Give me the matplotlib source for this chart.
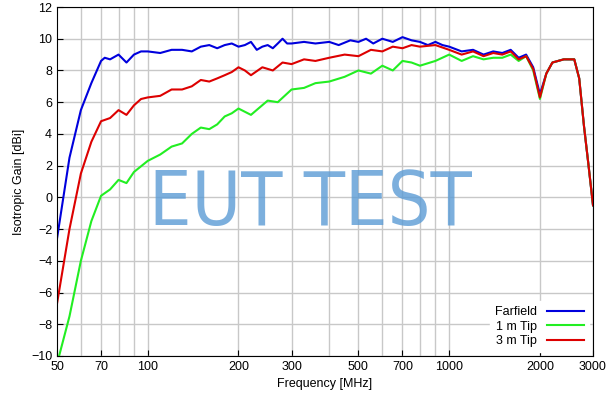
import matplotlib
matplotlib.use('Agg')
import matplotlib.pyplot as plt
from matplotlib.ticker import FixedLocator, NullLocator

plt.rcParams['font.family'] = ['Liberation Sans', 'DejaVu Sans']

# ---- data ----
freq_far = [50, 52, 55, 60, 65, 70, 72, 75, 80, 85, 90, 95, 100, 110, 120, 130, 140, 150, 160, 170,
            180, 190, 200, 210, 220, 230, 240, 250, 260, 270, 280, 290, 300, 330, 360, 400, 430, 470,
            500, 530, 560, 600, 650, 700, 750, 800, 850, 900, 950, 1000, 1100, 1200, 1300, 1400, 1500,
            1600, 1700, 1800, 1900, 2000, 2100, 2200, 2400, 2600, 2700, 2800, 2900, 3000]
gain_far = [-2.6, -0.5, 2.5, 5.5, 7.2, 8.6, 8.8, 8.7, 9.0, 8.5, 9.0, 9.2, 9.2, 9.1, 9.3, 9.3, 9.2, 9.5,
            9.6, 9.4, 9.6, 9.7, 9.5, 9.6, 9.8, 9.3, 9.5, 9.6, 9.4, 9.7, 10.0, 9.7, 9.7, 9.8, 9.7, 9.8,
            9.6, 9.9, 9.8, 10.0, 9.7, 10.0, 9.8, 10.1, 9.9, 9.8, 9.6, 9.8, 9.6, 9.5, 9.2, 9.3, 9.0,
            9.2, 9.1, 9.3, 8.8, 9.0, 8.2, 6.5, 7.8, 8.5, 8.7, 8.7, 7.5, 4.5, 2.0, -0.5]

freq_3m = [50, 55, 60, 65, 70, 75, 80, 85, 90, 95, 100, 110, 120, 130, 140, 150, 160, 170, 180, 190,
           200, 210, 220, 240, 260, 280, 300, 330, 360, 400, 450, 500, 550, 600, 650, 700, 750, 800,
           900, 1000, 1100, 1200, 1300, 1400, 1500, 1600, 1700, 1800, 1900, 2000, 2100, 2200, 2400,
           2600, 2700, 2800, 2900, 3000]
gain_3m = [-6.7, -2.0, 1.5, 3.5, 4.8, 5.0, 5.5, 5.2, 5.8, 6.2, 6.3, 6.4, 6.8, 6.8, 7.0, 7.4, 7.3, 7.5,
           7.7, 7.9, 8.2, 8.0, 7.7, 8.2, 8.0, 8.5, 8.4, 8.7, 8.6, 8.8, 9.0, 8.9, 9.3, 9.2, 9.5, 9.4,
           9.6, 9.5, 9.6, 9.3, 9.0, 9.2, 8.9, 9.1, 9.0, 9.2, 8.7, 8.9, 8.1, 6.3, 7.8, 8.5, 8.7, 8.7,
           7.5, 4.5, 2.0, -0.5]

freq_1m = [50, 55, 60, 65, 70, 75, 80, 85, 90, 100, 110, 120, 130, 140, 150, 160, 170, 180, 190, 200,
           220, 250, 270, 300, 330, 360, 400, 450, 500, 550, 600, 650, 700, 750, 800, 900, 1000, 1100,
           1200, 1300, 1400, 1500, 1600, 1700, 1800, 1900, 2000, 2100, 2200, 2400, 2600, 2700, 2800,
           2900, 3000]
gain_1m = [-10.5, -7.5, -4.0, -1.5, 0.1, 0.5, 1.1, 0.9, 1.6, 2.3, 2.7, 3.2, 3.4, 4.0, 4.4, 4.3, 4.6,
           5.1, 5.3, 5.6, 5.2, 6.1, 6.0, 6.8, 6.9, 7.2, 7.3, 7.6, 8.0, 7.8, 8.3, 8.0, 8.6, 8.5, 8.3,
           8.6, 9.0, 8.6, 8.9, 8.7, 8.8, 8.8, 9.0, 8.6, 8.9, 8.0, 6.2, 7.8, 8.5, 8.7, 8.7, 7.5, 4.5,
           2.0, -0.5]

xticks = [50, 70, 100, 200, 300, 500, 700, 1000, 2000, 3000]
xgrid = [60, 70, 80, 90, 100, 200, 300, 400, 500, 600, 700, 800, 900, 1000, 2000, 3000]
yticks = list(range(-10, 13, 2))

fig = plt.figure(figsize=(6.09, 4.09), dpi=100)
ax = fig.add_axes([57/609, 1-356/409, 536/609, 349/409])

ax.plot(freq_far, gain_far, color='#0000dd', lw=1.5, label='Farfield')
ax.plot(freq_1m, gain_1m, color='#22ee22', lw=1.5, label='1 m Tip')
ax.plot(freq_3m, gain_3m, color='#dd0000', lw=1.5, label='3 m Tip')

ax.set_xscale('log')
ax.set_xlim(50, 3000)
ax.set_ylim(-10, 12)
ax.xaxis.set_major_locator(FixedLocator(xticks))
ax.xaxis.set_minor_locator(NullLocator())
ax.set_xticklabels([str(t) for t in xticks])
ax.set_yticks(yticks)
for g in xgrid:
    ax.axvline(g, color='#c8c8c8', lw=1.0, zorder=0)
ax.yaxis.grid(True, color='#c8c8c8', lw=1.0)
ax.set_axisbelow(True)
ax.tick_params(direction='in', labelsize=9, length=4)
ax.set_xlabel('Frequency [MHz]', fontsize=9)
ax.set_ylabel('Isotropic Gain [dBi]', fontsize=9)

ax.legend(loc='lower right', fontsize=9, frameon=True, framealpha=1, edgecolor='white',
          fancybox=False, markerfirst=False, handlelength=3, borderaxespad=0.3, labelspacing=0.2)

fig.text(0.51, 0.5, 'EUT TEST', fontsize=54, color='#5b9bd5', alpha=0.8,
         ha='center', va='center', fontfamily='DejaVu Sans', fontstretch='condensed')

fig.savefig('out.png', dpi=100)
